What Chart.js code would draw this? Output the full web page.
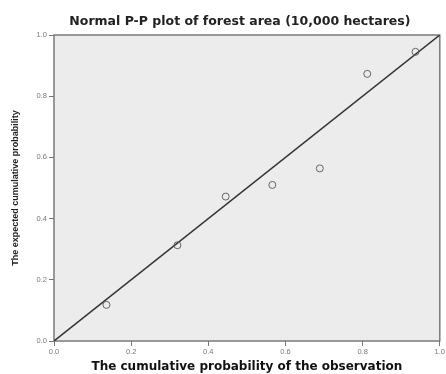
<!DOCTYPE html>
<html>
<head>
<meta charset="utf-8">
<script src="https://cdn.jsdelivr.net/npm/chart.js@4/dist/chart.umd.min.js"></script>
<style>
  html, body { margin: 0; padding: 0; background: #fff; }
  #wrap { width: 446px; height: 374px; }
</style>
</head>
<body>
<div id="wrap"><canvas id="ppChart"></canvas></div>
<script>
// observed cumulative probability vs expected cumulative probability
const observed = [0.136, 0.320, 0.445, 0.566, 0.689, 0.812, 0.937];
const expected = [0.118, 0.313, 0.472, 0.510, 0.564, 0.873, 0.945];
const refLine = [0, 1];
const tickValues = [0, 0.2, 0.4, 0.6, 0.8, 1.0];

const points = observed.map((x, i) => ({ x: x, y: expected[i] }));
const diagonal = refLine.map(v => ({ x: v, y: v }));

// fondo gris y marco del área del gráfico
const areaBox = {
  id: 'areaBox',
  afterLayout(chart) {
    // centrar el título sobre el área del gráfico
    if (chart.titleBlock) {
      chart.titleBlock.left = chart.chartArea.left - 14;
      chart.titleBlock.right = chart.chartArea.right;
    }
  },
  beforeDatasetsDraw(chart) {
    const { ctx, chartArea: a } = chart;
    ctx.save();
    ctx.fillStyle = '#ececec';
    ctx.fillRect(a.left, a.top, a.width, a.height);
    ctx.strokeStyle = '#7a7a7a';
    ctx.lineWidth = 1.5;
    ctx.strokeRect(a.left, a.top, a.width, a.height);
    ctx.restore();
  }
};

const ctx = document.getElementById('ppChart').getContext('2d');
const ppChart = new Chart(ctx, {
  type: 'scatter',
  data: {
    datasets: [{
      label: 'Observed',
      data: points,
      pointStyle: 'circle',
      pointRadius: 3.5,
      backgroundColor: 'rgba(0,0,0,0)',
      borderColor: '#666',
      borderWidth: 1,
      order: 1
    }, {
      label: 'Reference',
      type: 'line',
      data: diagonal,
      borderColor: '#333',
      borderWidth: 1.5,
      pointRadius: 0,
      fill: false,
      order: 2
    }]
  },
  options: {
    responsive: true,
    maintainAspectRatio: false,
    animation: false,
    layout: { padding: { left: 0, right: 6, top: 0, bottom: 0 } },
    scales: {
      x: {
        type: 'linear',
        min: 0,
        max: 1,
        afterBuildTicks: s => { s.ticks = tickValues.map(v => ({ value: v })); },
        afterFit: s => { s.height = 33; },
        grid: { drawOnChartArea: false, color: '#777', tickLength: 5 },
        border: { display: false },
        ticks: {
          color: '#777',
          font: { family: 'Arial, Liberation Sans', size: 7.5 },
          padding: 1,
          maxRotation: 0,
          callback: v => v.toFixed(1)
        },
        title: {
          display: true,
          text: 'The cumulative probability of the observation',
          color: '#111',
          font: { family: 'DejaVu Sans', size: 12, weight: 'bold' },
          padding: { top: 2, bottom: 0 }
        }
      },
      y: {
        type: 'linear',
        min: 0,
        max: 1,
        afterBuildTicks: s => { s.ticks = tickValues.map(v => ({ value: v })); },
        afterFit: s => { s.width = 54; },
        grid: { drawOnChartArea: false, color: '#777', tickLength: 5 },
        border: { display: false },
        ticks: {
          color: '#777',
          font: { family: 'Arial, Liberation Sans', size: 7.5 },
          padding: 2,
          callback: v => v.toFixed(1)
        },
        title: {
          display: true,
          text: 'The expected cumulative probability',
          color: '#222',
          font: { family: 'Arial, Liberation Sans', size: 9, weight: 'bold' },
          padding: { top: 10, bottom: 0 }
        }
      }
    },
    plugins: {
      legend: { display: false },
      tooltip: { enabled: false },
      title: {
        display: true,
        text: 'Normal P-P plot of forest area (10,000 hectares)',
        color: '#222',
        font: { family: 'DejaVu Sans', size: 12.5, weight: 'bold' },
        padding: { top: 14, bottom: 6 }
      }
    }
  },
  plugins: [areaBox]
});
</script>
</body>
</html>
